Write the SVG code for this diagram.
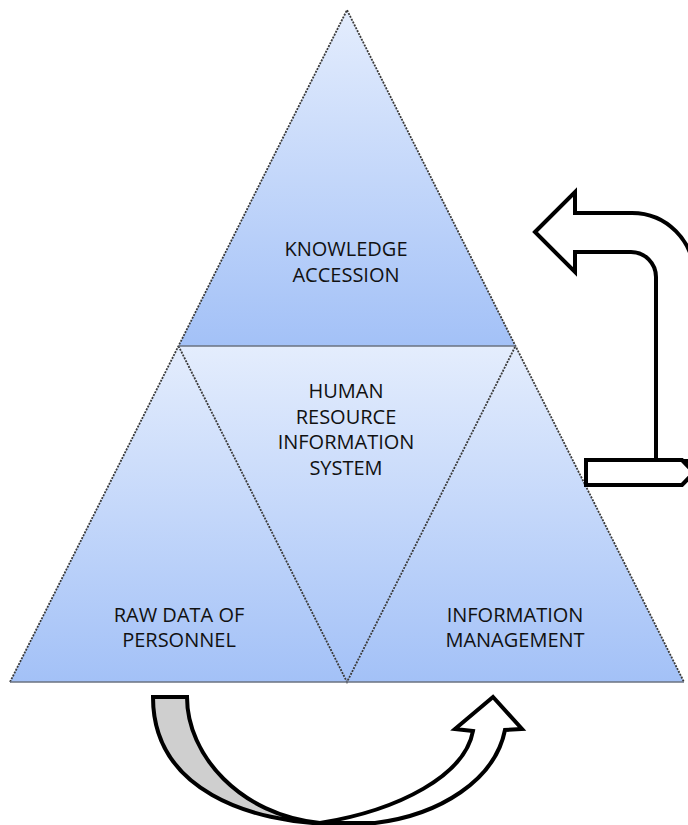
<svg xmlns="http://www.w3.org/2000/svg" width="688" height="825" viewBox="0 0 688 825">
  <defs>
    <linearGradient id="fillBlue" x1="0" y1="0" x2="0" y2="1">
      <stop offset="0" stop-color="#e4edfd"/>
      <stop offset="1" stop-color="#a3c1f7"/>
    </linearGradient>
    <filter id="soft" x="-5%" y="-50%" width="110%" height="300%">
      <feGaussianBlur stdDeviation="1.6"/>
    </filter>
  </defs>
  <style>
    .tri { fill: url(#fillBlue); stroke: none; }
    .edge { fill: none; stroke: #3a3a3a; stroke-width: 1.8; stroke-dasharray: 2 1.2; }
    .flat { fill: none; stroke: #6a7280; stroke-width: 1.6; }
    .lbl { font-family: "Open Sans", "Liberation Sans", sans-serif; font-size: 20px; fill: #111; text-anchor: middle; }
    .arrow { stroke: #000; stroke-width: 4; stroke-linejoin: miter; }
  </style>

  <rect width="688" height="825" fill="#fff"/>

  <!-- top section -->
  <g id="knowledge-accession">
    <polygon class="tri" points="347,10 178.5,346 515.5,346"/>
    <text class="lbl" x="346" y="256">KNOWLEDGE</text>
    <text class="lbl" x="346" y="282">ACCESSION</text>
  </g>

  <!-- lower-left section -->
  <g id="raw-data">
    <polygon class="tri" points="178.5,346 10,682 347,682"/>
    <text class="lbl" x="179" y="622">RAW DATA OF</text>
    <text class="lbl" x="179" y="647">PERSONNEL</text>
  </g>

  <!-- centre (inverted) section -->
  <g id="hris">
    <polygon class="tri" points="178.5,346 515.5,346 347,682"/>
    <text class="lbl" x="346" y="398">HUMAN</text>
    <text class="lbl" x="346" y="424">RESOURCE</text>
    <text class="lbl" x="346" y="449">INFORMATION</text>
    <text class="lbl" x="346" y="475">SYSTEM</text>
  </g>

  <!-- lower-right section -->
  <g id="information-management">
    <polygon class="tri" points="515.5,346 347,682 684,682"/>
    <text class="lbl" x="515" y="622">INFORMATION</text>
    <text class="lbl" x="515" y="647">MANAGEMENT</text>
  </g>

  <!-- outlines of the pyramid -->
  <g id="outline">
    <line x1="10" y1="684.5" x2="684" y2="684.5" stroke="#9aa0a8" stroke-width="3" filter="url(#soft)"/>
    <polyline class="edge" points="10,682 347,10 684,682"/>
    <polyline class="edge" points="178.5,346 347,682 515.5,346"/>
    <line class="flat" x1="178.5" y1="346" x2="515.5" y2="346"/>
    <line class="flat" x1="10" y1="682" x2="684" y2="682"/>
  </g>

  <g id="connectors">
    <!-- bent arrow on the right -->
    <path class="arrow" fill="#fff" d="M535,232 L575,192 L575,213 L632,213 A62,62 0 0 1 694,275 L694,461 L656,461 L656,277 A25,25 0 0 0 631,252 L575,252 L575,272 Z"/>
    <path class="arrow" fill="#fff" d="M586,460 L682,460 L694,472.5 L682,485 L586,485 Z"/>

    <!-- curved arrow under the base: shaded back band -->
    <path class="arrow" fill="#cfcfcf" d="M153,697 L187,697 C187,755 240,815 320,823 L335,824 C250,823 153,790 153,697 Z"/>
    <!-- curved arrow: front band with head -->
    <path class="arrow" fill="#fff" d="M320,823 C400,810 465,775 473,731 L455,729 L493,697 L522,729 L505,730 C495,780 440,815 375,823 Z"/>
  </g>
</svg>
